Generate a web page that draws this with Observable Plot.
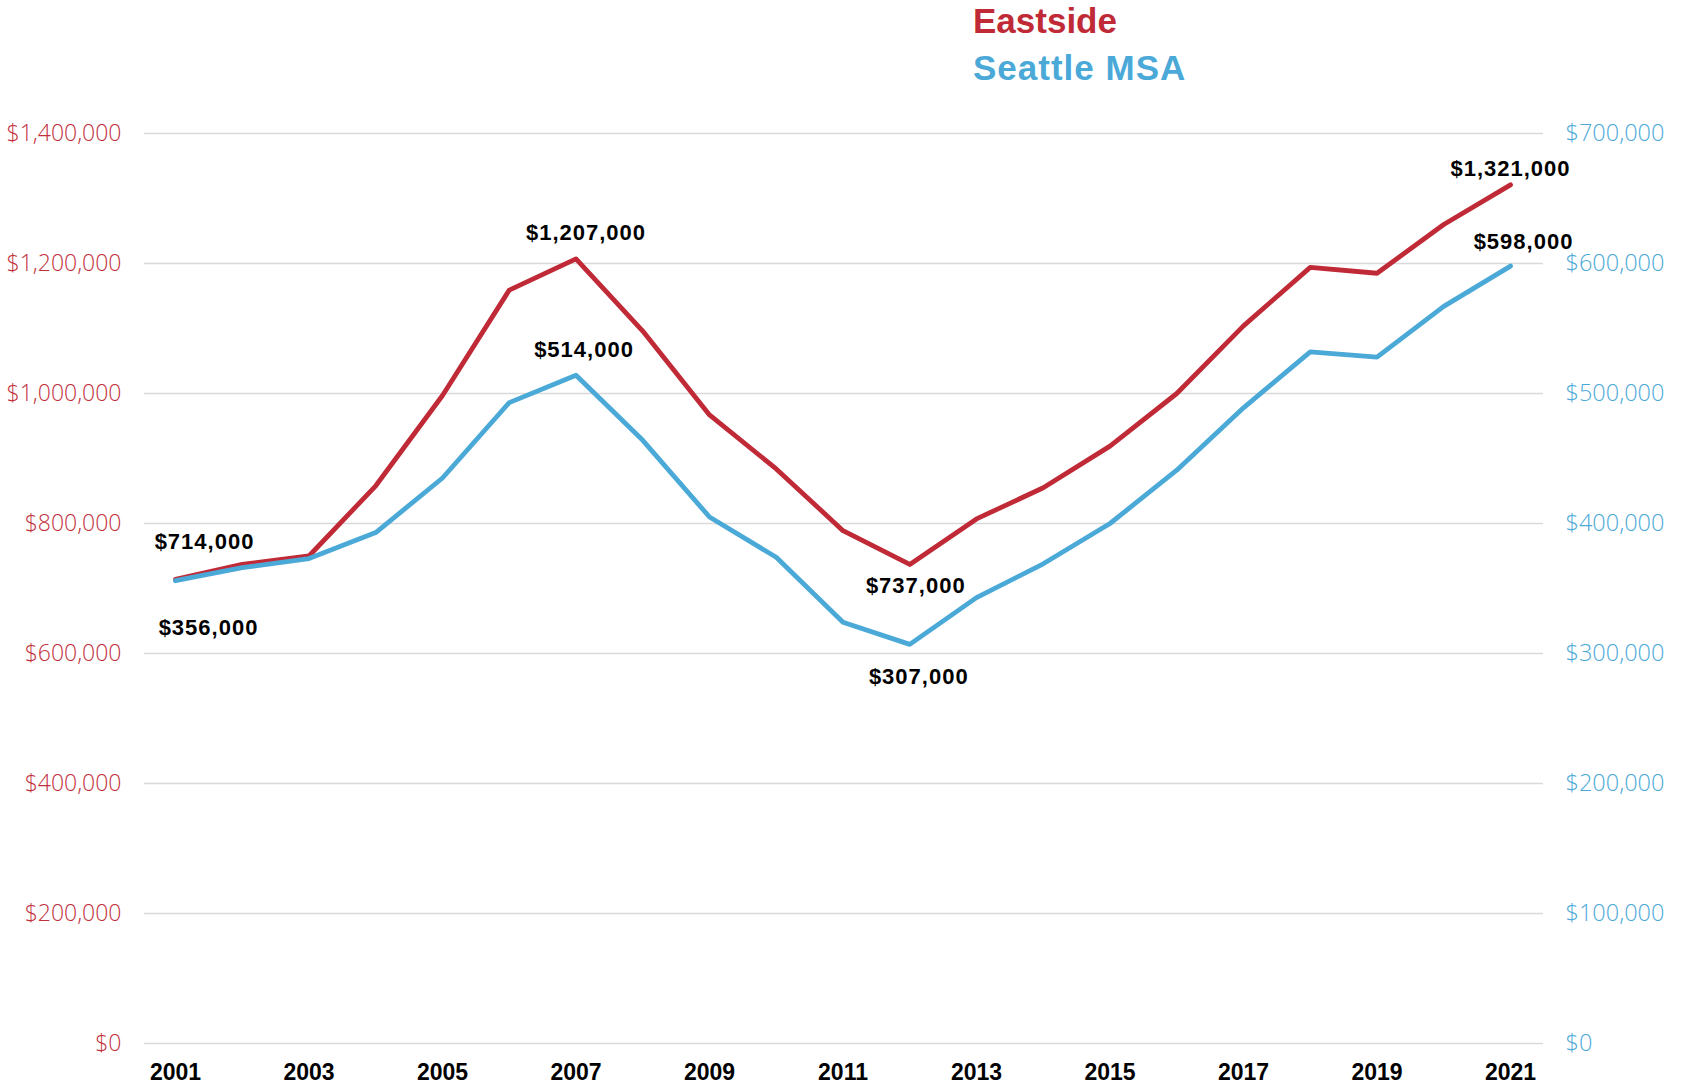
<!DOCTYPE html>
<html>
<head>
<meta charset="utf-8">
<script src="https://cdn.jsdelivr.net/npm/d3@7"></script>
<script src="https://cdn.jsdelivr.net/npm/@observablehq/plot@0.6"></script>
<style>
  html, body { margin: 0; padding: 0; background: #fff; overflow: hidden; }
  #wrap { position: relative; width: 1696px; height: 1085px; }
  #legend { position: absolute; left: 973px; top: -3px; font-family: "Liberation Sans", Arial, sans-serif; font-weight: bold; font-size: 35px; line-height: 47px; }
  .vlabel text { letter-spacing: 1px; }
</style>
</head>
<body>
<div id="wrap">
  <div id="chart"></div>
  <div id="legend">
    <div style="color:#c02a37">Eastside</div>
    <div style="color:#4ba9d8; letter-spacing: 1px">Seattle MSA</div>
  </div>
</div>
<script>
const years = [2001,2002,2003,2004,2005,2006,2007,2008,2009,2010,2011,2012,2013,2014,2015,2016,2017,2018,2019,2020,2021];
const eastside = [714000,737000,750000,858000,997000,1159000,1207000,1096000,967000,884000,789000,737000,807000,855000,919000,1000000,1104000,1194000,1185000,1260000,1321000];
const seattle = [356000,366000,373000,393000,435000,493000,514000,464000,405000,374000,324000,307000,343000,369000,400000,441000,489000,532000,528000,567000,598000];
const leftTicks = [0,200000,400000,600000,800000,1000000,1200000,1400000];
const rightTicks = [0,100000,200000,300000,400000,500000,600000,700000];
const yearTicks = [2001,2003,2005,2007,2009,2011,2013,2015,2017,2019,2021];

const RED = "#c02a37", BLUE = "#4ba9d8";
const data = years.map((y, i) => ({year: y, eastside: eastside[i], seattle: seattle[i]}));
const fmt = v => "$" + d3.format(",")(v);
// Seattle series drawn on the right axis: 0–700k maps onto the same range as 0–1.4M
const ratio = 1400000 / 700000;

function valueLabel(year, series, dx, dy) {
  const d = data.filter(r => r.year === year);
  return Plot.text(d, {
    x: "year",
    y: series === "eastside" ? "eastside" : r => r.seattle * ratio,
    text: r => fmt(r[series]),
    dx, dy,
    fontFamily: "Liberation Sans, Arial, sans-serif",
    fontWeight: "bold",
    fontSize: 22,
    fill: "#000",
    className: "vlabel"
  });
}

const chart = Plot.plot({
  width: 1696,
  height: 1085,
  marginLeft: 144,
  marginRight: 153,
  marginTop: 133,
  marginBottom: 42,
  x: {type: "linear", domain: [2001, 2021], insetLeft: 31, insetRight: 33},
  y: {domain: [0, 1400000]},
  marks: [
    Plot.ruleY(leftTicks, {stroke: "#d9d9d9", strokeWidth: 1.6}),
    Plot.axisY(leftTicks, {
      anchor: "left", tickSize: 0, tickPadding: 23, label: null,
      tickFormat: fmt, fill: "#c22f3c",
      fontFamily: "Open Sans, sans-serif", fontWeight: 300, fontSize: 23
    }),
    Plot.axisY(rightTicks.map(v => v * ratio), {
      anchor: "right", tickSize: 0, tickPadding: 22, label: null,
      tickFormat: v => fmt(v / ratio), fill: BLUE,
      fontFamily: "Open Sans, sans-serif", fontWeight: 300, fontSize: 23.5
    }),
    Plot.axisX(yearTicks, {
      anchor: "bottom", tickSize: 0, tickPadding: 20, label: null,
      tickFormat: d => String(d), fill: "#000",
      fontFamily: "Liberation Sans, Arial, sans-serif", fontWeight: "bold", fontSize: 23
    }),
    Plot.line(data, {x: "year", y: "eastside", stroke: RED, strokeWidth: 4.8}),
    Plot.line(data, {x: "year", y: d => d.seattle * ratio, stroke: BLUE, strokeWidth: 4.8}),
    valueLabel(2001, "eastside", 29, -37),
    valueLabel(2001, "seattle", 33, 47),
    valueLabel(2007, "eastside", 10, -26),
    valueLabel(2007, "seattle", 8, -25),
    valueLabel(2012, "eastside", 6, 22),
    valueLabel(2012, "seattle", 9, 33),
    valueLabel(2021, "eastside", 0, -16),
    valueLabel(2021, "seattle", 13, -24)
  ]
});
document.getElementById("chart").appendChild(chart);
</script>
</body>
</html>
